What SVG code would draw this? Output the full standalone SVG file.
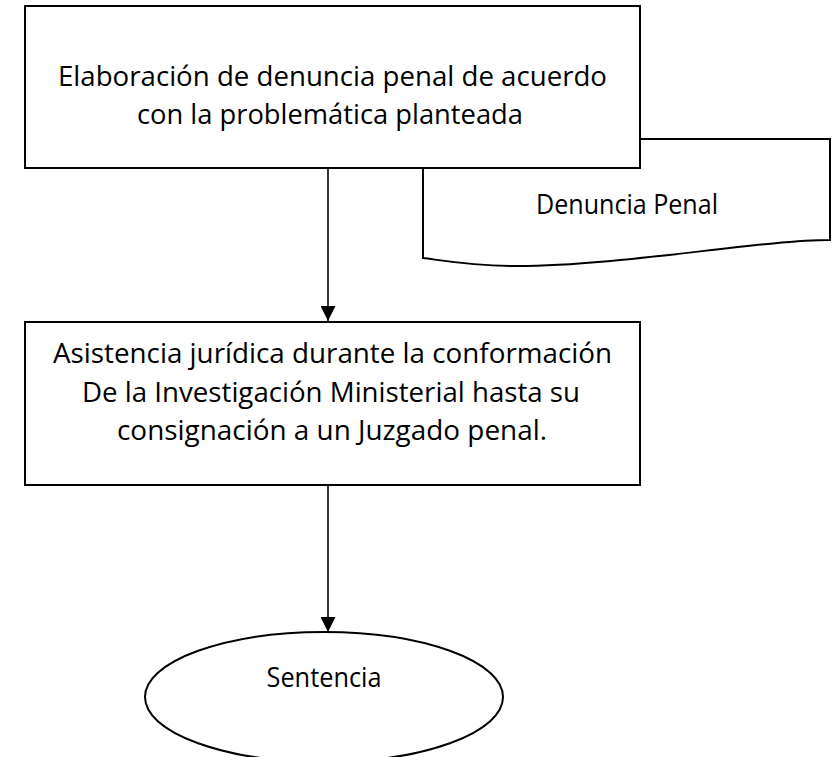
<svg xmlns="http://www.w3.org/2000/svg" width="834" height="757" viewBox="0 0 834 757">
<style>
.shape{fill:#fff;stroke:#000;stroke-width:2}
.txt{font-family:"Open Sans","Noto Sans",sans-serif;font-size:27px;fill:#000;text-anchor:middle}
.conn{stroke:#000;stroke-width:1.6;fill:none}
</style>
<defs>
<marker id="arrow" markerUnits="userSpaceOnUse" markerWidth="15" markerHeight="15" refX="15" refY="7.5" orient="auto">
<path d="M0,0 L15,7.5 L0,15 z" fill="#000"/>
</marker>
</defs>
<g id="doc-denuncia">
<path class="shape" d="M423,139 H830 V240 C760,240 620,266 517,266 C470,266 440,260 423,258 Z"/>
<text class="txt" x="627" y="214" textLength="182" lengthAdjust="spacingAndGlyphs">Denuncia Penal</text>
</g>
<g id="node-elaboracion">
<rect class="shape" x="25" y="6" width="615" height="162"/>
<text class="txt" x="332.5" y="86" textLength="549" lengthAdjust="spacingAndGlyphs">Elaboración de denuncia penal de acuerdo</text>
<text class="txt" x="330" y="124" textLength="386" lengthAdjust="spacingAndGlyphs">con la problemática planteada</text>
</g>
<g id="node-asistencia">
<rect class="shape" x="25" y="322" width="615" height="163"/>
<text class="txt" x="332.5" y="363" textLength="559" lengthAdjust="spacingAndGlyphs">Asistencia jurídica durante la conformación</text>
<text class="txt" x="331" y="401.5" textLength="498" lengthAdjust="spacingAndGlyphs">De la Investigación Ministerial hasta su</text>
<text class="txt" x="332" y="440" textLength="430" lengthAdjust="spacingAndGlyphs">consignación a un Juzgado penal.</text>
</g>
<g id="node-sentencia">
<ellipse class="shape" cx="324" cy="697" rx="179" ry="65"/>
<text class="txt" x="324" y="687" textLength="115" lengthAdjust="spacingAndGlyphs">Sentencia</text>
</g>
<g id="connectors">
<line class="conn" x1="328" y1="168" x2="328" y2="321" marker-end="url(#arrow)"/>
<line class="conn" x1="328" y1="485" x2="328" y2="632" marker-end="url(#arrow)"/>
</g>
</svg>
